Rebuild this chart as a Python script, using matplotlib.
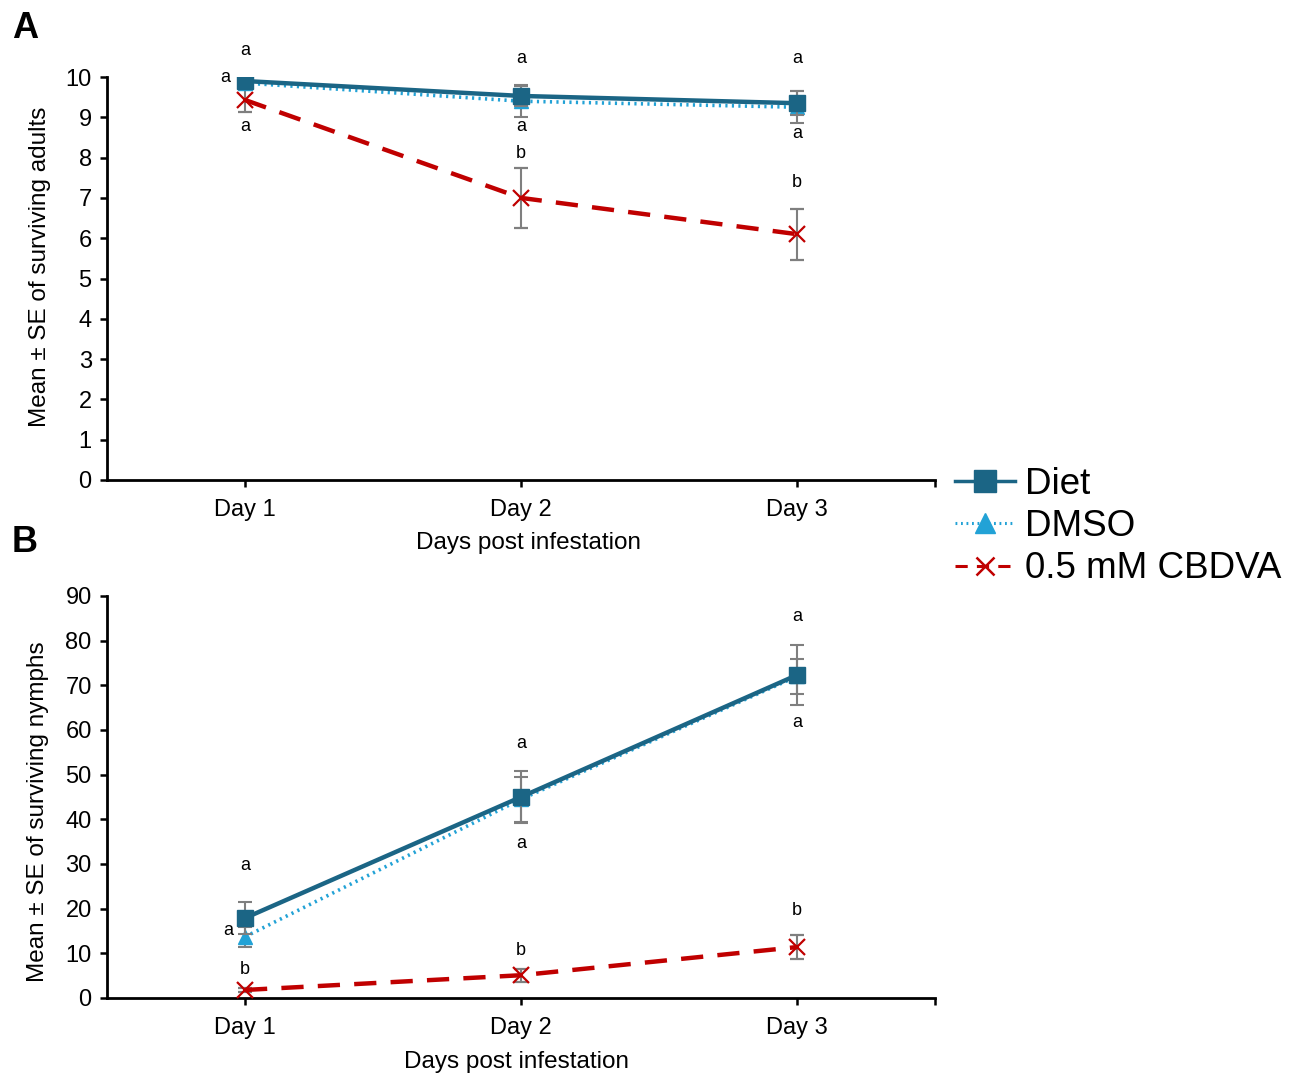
import matplotlib
matplotlib.use("Agg")
import matplotlib.pyplot as plt
from matplotlib.lines import Line2D
import numpy as np

plt.rcParams['font.family'] = ['Liberation Sans', 'DejaVu Sans']

days = ["Day 1", "Day 2", "Day 3"]
series = ["Diet", "DMSO", "0.5 mM CBDVA"]

# Panel A: surviving adults
adult_diet = [9.9, 9.53, 9.35]
adult_dmso = [9.85, 9.4, 9.25]
adult_cbdva = [9.43, 7.0, 6.1]
adult_diet_se = [0.1, 0.25, 0.3]
adult_dmso_se = [0.15, 0.4, 0.4]
adult_cbdva_se = [0.3, 0.75, 0.63]

# Panel B: surviving nymphs
nymph_diet = [17.9, 45.0, 72.3]
nymph_dmso = [13.7, 44.5, 72.0]
nymph_cbdva = [1.8, 5.1, 11.4]
nymph_diet_se = [3.5, 5.8, 6.8]
nymph_dmso_se = [2.3, 5.0, 4.0]
nymph_cbdva_se = [0.5, 1.5, 2.7]

# significance letters: (day index, x shift, y, letter)
adult_letters = [(0, 0.0, 10.65, "a"), (0, -0.07, 10.0, "a"), (0, 0.0, 8.76, "a"),
                 (1, 0.0, 10.47, "a"), (1, 0.0, 8.76, "a"), (1, 0.0, 8.11, "b"),
                 (2, 0.0, 10.45, "a"), (2, 0.0, 8.59, "a"), (2, 0.0, 7.37, "b")]
nymph_letters = [(0, 0.0, 29.6, "a"), (0, -0.06, 15.2, "a"), (0, 0.0, 6.3, "b"),
                 (1, 0.0, 56.9, "a"), (1, 0.0, 34.5, "a"), (1, 0.0, 10.7, "b"),
                 (2, 0.0, 85.3, "a"), (2, 0.0, 61.6, "a"), (2, 0.0, 19.7, "b")]

c_diet = "#1b6585"
c_dmso = "#22a2d6"
c_cbdva = "#c00000"
c_err = "#7f7f7f"

fig = plt.figure(figsize=(12.98, 10.75), dpi=100)
axA = fig.add_axes([107/1298, 1-480/1075, (935-107)/1298, (480-77)/1075])
axB = fig.add_axes([107/1298, 1-998/1075, (935-107)/1298, (998-596)/1075])

x = np.arange(len(days)) + 0.5

def draw(ax, d, dm, cb, dse, dmse, cbse, letters, ylim, ystep):
    ax.errorbar(x, cb, yerr=cbse, color=c_cbdva, lw=3.2, dashes=(5, 3.2),
                marker='x', ms=11, mew=1.6, ecolor=c_err, elinewidth=1.5,
                capsize=5, capthick=1.5, zorder=3)
    ax.errorbar(x, dm, yerr=dmse, color=c_dmso, lw=2.6, linestyle=(0, (0.6, 1.2)),
                marker='^', ms=10, ecolor=c_err, elinewidth=1.5,
                capsize=5, capthick=1.5, zorder=4)
    ax.errorbar(x, d, yerr=dse, color=c_diet, lw=3.2, marker='s', ms=12,
                ecolor=c_err, elinewidth=1.5, capsize=5, capthick=1.5, zorder=5)
    for i, dx, yy, t in letters:
        ax.text(x[i] + dx, yy, t, ha='center', va='center', fontsize=13,
                clip_on=False)
    ax.set_xlim(0, 3)
    ax.set_ylim(*ylim)
    ax.set_yticks(np.arange(ylim[0], ylim[1] + ystep / 2, ystep))
    ax.set_xticks(x)
    ax.set_xticklabels(days)
    ax.set_xticks([3.0], minor=True)
    ax.tick_params(axis='both', which='both', direction='out', length=5, width=1.8,
                   labelsize=17, pad=6)
    ax.tick_params(axis='x', pad=9)
    for s in ['top', 'right']:
        ax.spines[s].set_visible(False)
    for s in ['left', 'bottom']:
        ax.spines[s].set_linewidth(2.0)

draw(axA, adult_diet, adult_dmso, adult_cbdva, adult_diet_se, adult_dmso_se,
     adult_cbdva_se, adult_letters, (0, 10), 1)
draw(axB, nymph_diet, nymph_dmso, nymph_cbdva, nymph_diet_se, nymph_dmso_se,
     nymph_cbdva_se, nymph_letters, (0, 90), 10)

fig.text(529/1298, 1-543/1075, "Days post infestation", ha='center', va='center', fontsize=17.5)
fig.text(516/1298, 1-1062/1075, "Days post infestation", ha='center', va='center', fontsize=17.5)
fig.text(40/1298, 1-267/1075, "Mean ± SE of surviving adults", ha='center', va='center',
         rotation=90, fontsize=17.5)
fig.text(38/1298, 1-812/1075, "Mean ± SE of surviving nymphs", ha='center', va='center',
         rotation=90, fontsize=17.5)
fig.text(12/1298, 1-28/1075, "A", ha='left', va='center', fontsize=26, fontweight='bold')
fig.text(12/1298, 1-543/1075, "B", ha='left', va='center', fontsize=26, fontweight='bold')

handles = [
    Line2D([], [], color=c_diet, lw=2.5, marker='s', ms=16),
    Line2D([], [], color=c_dmso, lw=2.2, linestyle=(0, (0.6, 1.2)), marker='^', ms=14),
    Line2D([], [], color=c_cbdva, lw=2.2, dashes=(4, 3), marker='x', ms=13, mew=1.8),
]
fig.legend(handles, series, loc='upper left',
           bbox_to_anchor=(940/1298, 1-452/1075), frameon=False, fontsize=26.5,
           handlelength=1.65, handletextpad=0.25, labelspacing=0.2, borderaxespad=0)

fig.savefig("out.png", dpi=100)
